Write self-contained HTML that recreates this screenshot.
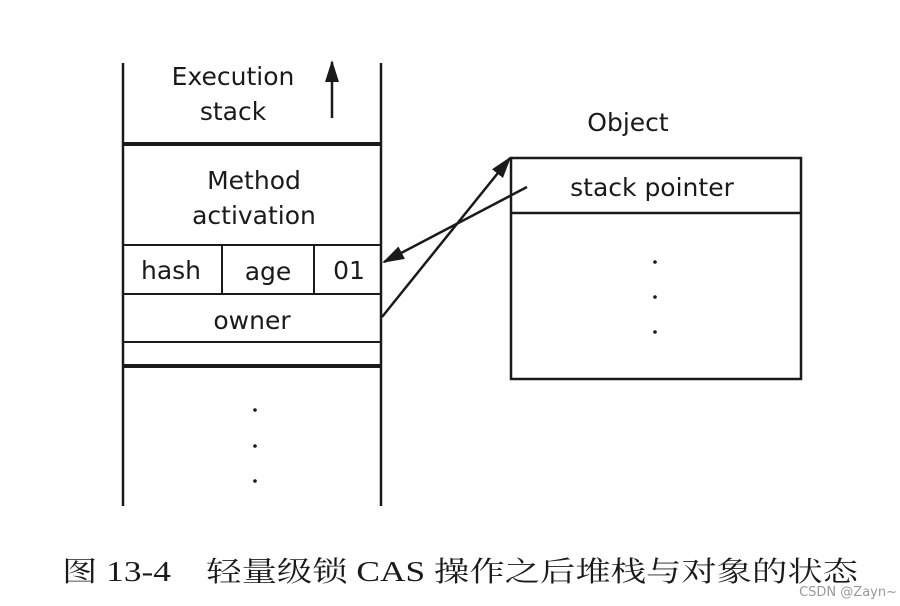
<!DOCTYPE html>
<html><head><meta charset="utf-8"><style>
html,body{margin:0;padding:0;background:#fff;}
svg{display:block;}
text{font-family:"DejaVu Sans","Liberation Sans",sans-serif;fill:#1a1a1a;}
</style></head><body>
<svg width="900" height="606" viewBox="0 0 900 606" xmlns="http://www.w3.org/2000/svg">
<defs>
<marker id="ah" markerWidth="10" markerHeight="8" refX="9" refY="4" orient="auto" markerUnits="userSpaceOnUse">
<path d="M0,0 L10,4 L0,8 Z" fill="#1a1a1a"/>
</marker>
<marker id="ah2" markerWidth="22" markerHeight="14" refX="20" refY="7" orient="auto" markerUnits="userSpaceOnUse">
<path d="M0,0 L22,7 L0,14 Z" fill="#1a1a1a"/>
</marker>
</defs>
<g stroke="#1a1a1a" fill="none">
<line x1="123" y1="63" x2="123" y2="506" stroke-width="2.5"/>
<line x1="381" y1="63" x2="381" y2="506" stroke-width="2.5"/>
<line x1="123" y1="144" x2="381" y2="144" stroke-width="4"/>
<line x1="123" y1="245" x2="381" y2="245" stroke-width="2"/>
<line x1="123" y1="294" x2="381" y2="294" stroke-width="2"/>
<line x1="123" y1="342" x2="381" y2="342" stroke-width="2"/>
<line x1="123" y1="366" x2="381" y2="366" stroke-width="4"/>
<line x1="222" y1="245" x2="222" y2="294" stroke-width="2"/>
<line x1="314" y1="245" x2="314" y2="294" stroke-width="2"/>
<rect x="511" y="158" width="290" height="221" stroke-width="2.5"/>
<line x1="511" y1="213" x2="801" y2="213" stroke-width="2.5"/>
<line x1="332" y1="118" x2="332" y2="62" stroke-width="2.5" marker-end="url(#ah2)"/>
<line x1="527" y1="187" x2="384" y2="262" stroke-width="2.5" marker-end="url(#ah2)"/>
<line x1="382" y1="317" x2="510" y2="158" stroke-width="2.5" marker-end="url(#ah2)"/>
</g>
<g fill="#1a1a1a">
<circle cx="255" cy="410" r="1.8"/><circle cx="255" cy="446" r="1.8"/><circle cx="255" cy="481" r="1.8"/>
<circle cx="655" cy="262" r="1.8"/><circle cx="655" cy="297" r="1.8"/><circle cx="655" cy="332" r="1.8"/>
</g>
<g font-size="25" text-anchor="middle">
<text x="233" y="85">Execution</text>
<text x="233" y="120">stack</text>
<text x="254" y="189">Method</text>
<text x="254" y="224">activation</text>
<text x="171" y="279">hash</text>
<text x="268" y="280">age</text>
<text x="349" y="279">01</text>
<text x="252" y="329">owner</text>
<text x="628" y="131">Object</text>
<text x="652" y="196">stack pointer</text>
</g>
<text x="62" y="581" font-size="28" textLength="796" lengthAdjust="spacingAndGlyphs" style="font-family:'Liberation Serif','Noto Serif CJK SC',serif">图 13-4　轻量级锁 CAS 操作之后堆栈与对象的状态</text>
<text x="897" y="596" font-size="13" text-anchor="end" style="fill:#999">CSDN @Zayn~</text>
</svg>
</body></html>
